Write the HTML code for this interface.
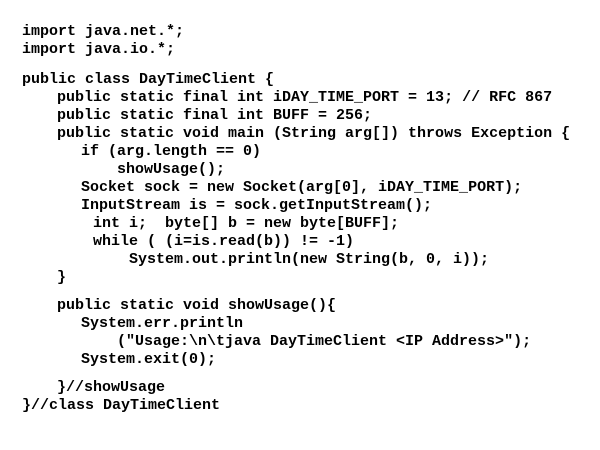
<!DOCTYPE html>
<html><head><style>
body{margin:0;width:600px;height:450px;background:#fff;position:relative;overflow:hidden}
div{position:absolute;white-space:pre;font-family:"Liberation Mono",monospace;font-weight:bold;font-size:15px;line-height:18px;color:#000}
</style></head><body>
<div style="left:22px;top:23px">import java.net.*;</div>
<div style="left:22px;top:41px">import java.io.*;</div>
<div style="left:22px;top:71px">public class DayTimeClient {</div>
<div style="left:57px;top:89px">public static final int iDAY_TIME_PORT = 13; // RFC 867</div>
<div style="left:57px;top:107px">public static final int BUFF = 256;</div>
<div style="left:57px;top:125px">public static void main (String arg[]) throws Exception {</div>
<div style="left:81px;top:143px">if (arg.length == 0)</div>
<div style="left:117px;top:161px">showUsage();</div>
<div style="left:81px;top:179px">Socket sock = new Socket(arg[0], iDAY_TIME_PORT);</div>
<div style="left:81px;top:197px">InputStream is = sock.getInputStream();</div>
<div style="left:93px;top:215px">int i;  byte[] b = new byte[BUFF];</div>
<div style="left:93px;top:233px">while ( (i=is.read(b)) != -1)</div>
<div style="left:129px;top:251px">System.out.println(new String(b, 0, i));</div>
<div style="left:57px;top:269px">}</div>
<div style="left:57px;top:297px">public static void showUsage(){</div>
<div style="left:81px;top:315px">System.err.println</div>
<div style="left:117px;top:333px">("Usage:\n\tjava DayTimeClient &lt;IP Address&gt;");</div>
<div style="left:81px;top:351px">System.exit(0);</div>
<div style="left:57px;top:379px">}//showUsage</div>
<div style="left:22px;top:397px">}//class DayTimeClient</div>
</body></html>
